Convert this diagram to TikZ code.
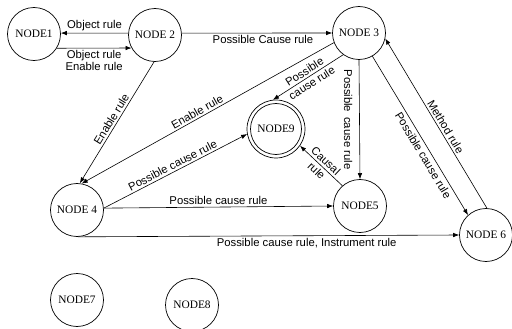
\documentclass[tikz,border=0pt]{standalone}
\usepackage{fontspec}
\setmainfont{Liberation Serif}
\newfontfamily\labfont{Liberation Sans}
\usetikzlibrary{arrows.meta}
\begin{document}
\begin{tikzpicture}[x=1pt,y=-1pt,
  state/.style={circle,draw,line width=0.7pt,minimum size=53pt,inner sep=0pt,font=\fontsize{11.4}{13}\selectfont},
  edge/.style={line width=0.6pt,-{Latex[length=6pt,width=4.5pt]}},
  lbl/.style={font=\labfont\fontsize{11.3}{13.5}\selectfont,inner sep=2pt}]
\useasboundingbox (0,0) rectangle (512,329);
\node[state] (n1) at (34,34) {NODE1};
\node[state] (n2) at (155,35) {NODE 2};
\node[state] (n3) at (359,33) {NODE 3};
\node[state,minimum size=58pt] (n9) at (276,129) {NODE9};
\draw[line width=0.7pt] (n9.center) circle (25.5);
\node[state] (n4) at (77,210) {NODE 4};
\node[state] (n5) at (360,206) {NODE5};
\node[state] (n6) at (486,235) {NODE 6};
\node[state] (n7) at (77,300) {NODE7};
\node[state] (n8) at (192,305) {NODE8};

\draw[edge] (n2.176) -- node[lbl,above,inner sep=1.5pt] {Object rule} (n1.2);
\draw[edge] (n1.-32) -- node[lbl,below,align=center,inner sep=1.5pt] {Object rule\\[-1.5pt]Enable rule} (n2.209);
\draw[edge] (n2.4) -- node[lbl,below,pos=0.54] {Possible Cause rule} (n3.180);
\draw[edge] (n2.-92) -- node[lbl,sloped,above] {Enable rule} (n4.84);
\draw[edge] (n3.201) -- node[lbl,sloped,above,pos=0.53] {Enable rule} (n4.80);
\draw[edge] (n3.234) -- node[lbl,sloped,align=center] {Possible\\cause rule} (n9.96);
\draw[edge] (n4.4) -- node[lbl,sloped,above] {Possible cause rule} (n9.190);
\draw[edge] (n4.4) -- node[lbl,above] {Possible cause rule} (n5.180);
\draw[edge] (n4.-88) -- node[lbl,below,pos=0.6] {Possible cause rule, Instrument rule} (n6.180);
\draw[edge] (n3.-90) -- node[lbl,rotate=-90,anchor=north,inner sep=7pt] {Possible\hspace{5pt}cause rule} (n5.90);
\draw[edge] (n3.-60) -- node[lbl,sloped,below,pos=0.6,inner sep=3pt] {Possible cause rule} (n6.132);
\draw[edge] (n6.88) -- node[lbl,sloped,above,pos=0.46] {Method rule} (n3.-12);
\draw[edge] (n5.131) -- node[lbl,sloped,align=center] {Causal\\rule} (n9.-35);
\end{tikzpicture}
\end{document}
